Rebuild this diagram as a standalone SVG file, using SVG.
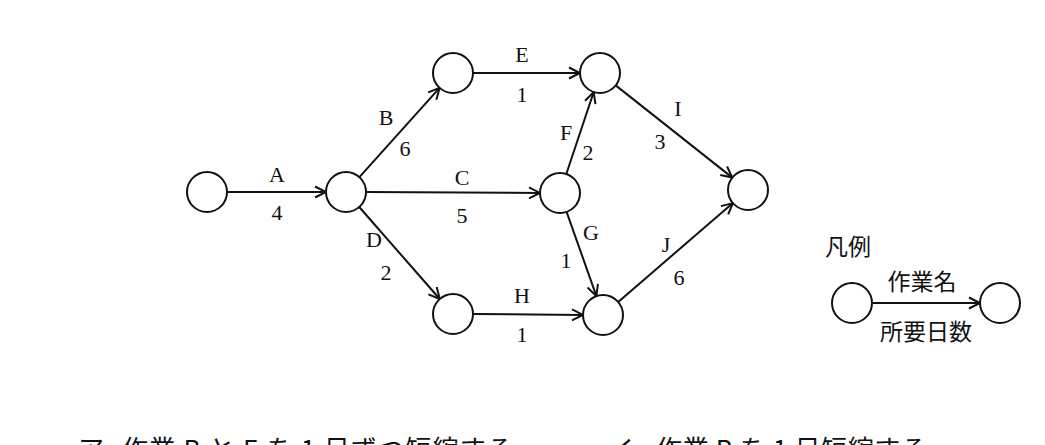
<svg xmlns="http://www.w3.org/2000/svg" width="1045" height="445" viewBox="0 0 1045 445">
<defs>
<style>
.node{fill:#fff;stroke:#111;stroke-width:2}
.edge{fill:none;stroke:#111;stroke-width:2;marker-end:url(#arr)}
.lbl{font-family:"Liberation Serif","DejaVu Serif",serif;font-size:22px;fill:#111;text-anchor:middle}
.jp{font-family:"Noto Sans CJK JP",sans-serif;fill:#111}
</style>
<marker id="arr" markerUnits="userSpaceOnUse" markerWidth="16" markerHeight="16" refX="12" refY="7" orient="auto">
<path d="M1,1.5 L12,7 L1,12.5" fill="none" stroke="#111" stroke-width="2"/>
</marker>
</defs>
<rect width="1045" height="445" fill="#fff"/>
<g id="connectors">
<line class="edge" x1="227" y1="192" x2="326" y2="192"/>
<line class="edge" x1="359.4" y1="177.1" x2="439.6" y2="87.9"/>
<line class="edge" x1="366" y1="192.1" x2="540" y2="192.9"/>
<line class="edge" x1="359.2" y1="207" x2="439.8" y2="299"/>
<line class="edge" x1="473" y1="73" x2="580" y2="73"/>
<line class="edge" x1="566.3" y1="174" x2="593.7" y2="92"/>
<line class="edge" x1="566.6" y1="211.9" x2="596.4" y2="296.1"/>
<line class="edge" x1="473" y1="314.1" x2="583" y2="314.9"/>
<line class="edge" x1="615.7" y1="85.4" x2="732.3" y2="177.6"/>
<line class="edge" x1="618.2" y1="301.9" x2="732.9" y2="203.1"/>
<line class="edge" x1="872" y1="303" x2="980" y2="303"/>
</g>
<g id="labels">
<text class="lbl" x="277" y="182">A</text><text class="lbl" x="277" y="220">4</text>
<text class="lbl" x="386" y="125">B</text><text class="lbl" x="405" y="156">6</text>
<text class="lbl" x="462" y="185">C</text><text class="lbl" x="462" y="223">5</text>
<text class="lbl" x="374" y="247">D</text><text class="lbl" x="386" y="280">2</text>
<text class="lbl" x="522" y="62">E</text><text class="lbl" x="522" y="102">1</text>
<text class="lbl" x="566" y="140">F</text><text class="lbl" x="588" y="160">2</text>
<text class="lbl" x="591" y="240">G</text><text class="lbl" x="566" y="268">1</text>
<text class="lbl" x="522" y="303">H</text><text class="lbl" x="522" y="342">1</text>
<text class="lbl" x="678" y="116">I</text><text class="lbl" x="660" y="149">3</text>
<text class="lbl" x="666" y="252">J</text><text class="lbl" x="679" y="285">6</text>
</g>
<g id="n1"><circle class="node" cx="207" cy="192" r="20"/></g>
<g id="n2"><circle class="node" cx="346" cy="192" r="20"/></g>
<g id="n3"><circle class="node" cx="453" cy="73" r="20"/></g>
<g id="n4"><circle class="node" cx="600" cy="73" r="20"/></g>
<g id="n5"><circle class="node" cx="560" cy="193" r="20"/></g>
<g id="n6"><circle class="node" cx="453" cy="314" r="20"/></g>
<g id="n7"><circle class="node" cx="603" cy="315" r="20"/></g>
<g id="n8"><circle class="node" cx="748" cy="190" r="20"/></g>
<g id="legend">
<text class="jp" x="825" y="255" font-size="23">凡例</text>
<circle class="node" cx="852" cy="303" r="20"/>
<circle class="node" cx="1000" cy="303" r="20"/>
<text class="jp" x="922" y="290" font-size="23" text-anchor="middle">作業名</text>
<text class="jp" x="926" y="340" font-size="23" text-anchor="middle">所要日数</text>
</g>
<g id="choices">
<text class="jp" x="78" y="459" font-size="26">ア</text>
<text class="jp" x="122" y="459" font-size="26" textLength="391" lengthAdjust="spacing">作業 B と E を 1 日ずつ短縮する</text>
<text class="jp" x="608" y="459" font-size="26">イ</text>
<text class="jp" x="656" y="459" font-size="26" textLength="271" lengthAdjust="spacing">作業 B を 1 日短縮する</text>
</g>
</svg>
